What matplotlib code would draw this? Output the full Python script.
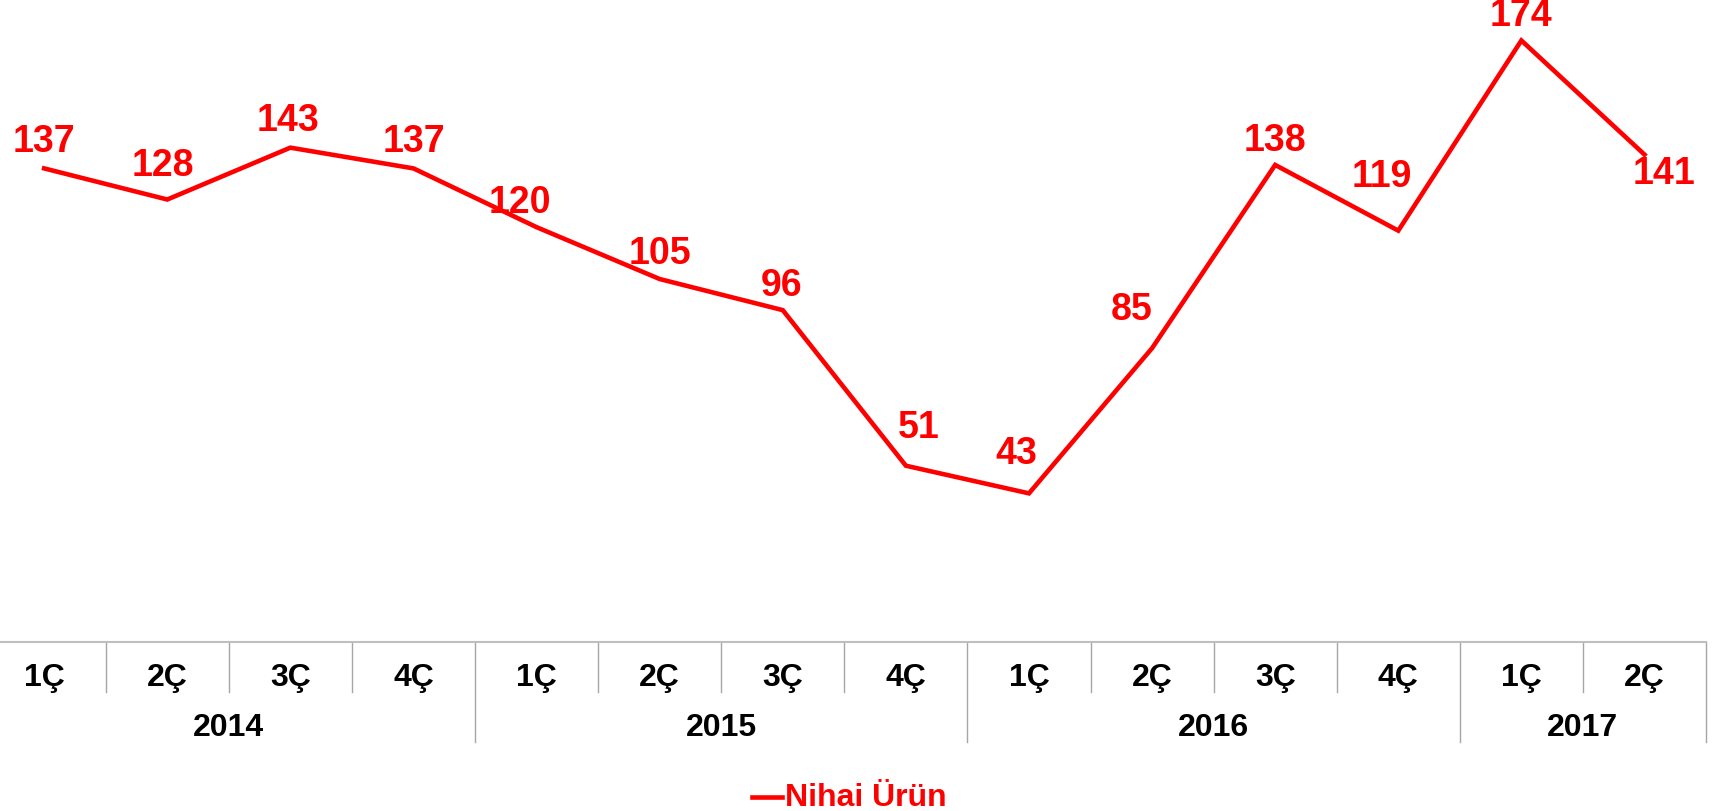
import matplotlib.pyplot as plt

plt.rcParams['font.family'] = ['Liberation Sans', 'DejaVu Sans']

# data
years = ['2014', '2015', '2016', '2017']
quarters_per_year = [4, 4, 4, 2]
quarter_labels = ['1Ç', '2Ç', '3Ç', '4Ç', '1Ç', '2Ç', '3Ç', '4Ç',
                  '1Ç', '2Ç', '3Ç', '4Ç', '1Ç', '2Ç']
values = [137, 128, 143, 137, 120, 105, 96, 51, 43, 85, 138, 119, 174, 141]
series_name = 'Nihai Ürün'

# label offsets in points (layout only)
label_dx = [0, -3, -2, 0, -12, 0, -1, 9, -9, -15, 0, -12, 0, 14]
label_dy = [20, 25, 20, 20, 18, 19, 18, 28, 29, 28, 18, 39, 18, -13]

RED = '#FF0000'
fig = plt.figure(figsize=(17.14, 8.12), dpi=100)
ax = fig.add_axes([-0.01015, 0.2081, 1.0055, 0.7919])

n = len(values)
xs = [i + 0.5 for i in range(n)]
ax.plot(xs, values, color=RED, linewidth=3.3, solid_joinstyle='miter')
ax.set_xlim(0, n)
ax.set_ylim(0, 186)

for x, v, dx, dy in zip(xs, values, label_dx, label_dy):
    ax.annotate(str(v), (x, v), xytext=(dx, dy), textcoords='offset points',
                ha='center', va='center', color=RED, fontsize=27, fontweight='bold')

for s in ['top', 'right', 'left']:
    ax.spines[s].set_visible(False)
ax.spines['bottom'].set_color('#BFBFBF')
ax.spines['bottom'].set_linewidth(1.5)
ax.set_xticks([])
ax.set_yticks([])

# category axis (quarters + years)
tr = ax.get_xaxis_transform()
ax_px = 643.0
q_bot = -50 / ax_px
y_bot = -100 / ax_px
year_edges = [0]
for q in quarters_per_year:
    year_edges.append(year_edges[-1] + q)

for i in range(n + 1):
    bottom = y_bot if i in year_edges else q_bot
    ax.plot([i, i], [0, bottom], transform=tr, color='#A6A6A6', linewidth=1, clip_on=False)

for x, lab in zip(xs, quarter_labels):
    ax.text(x, -35 / ax_px, lab, transform=tr, ha='center', va='center',
            fontsize=23, fontweight='bold', color='black')

for k, yr in enumerate(years):
    mid = (year_edges[k] + year_edges[k + 1]) / 2
    ax.text(mid, -85 / ax_px, yr, transform=tr, ha='center', va='center',
            fontsize=23, fontweight='bold', color='black')

# legend
fig.lines.append(plt.Line2D([752 / 1714, 782 / 1714], [1 - 798 / 812] * 2,
                            transform=fig.transFigure, color=RED, linewidth=3.3))
fig.text(785 / 1714, 1 - 798 / 812, series_name, ha='left', va='center',
         fontsize=23, fontweight='bold', color=RED)

fig.savefig('out.png', dpi=100)
